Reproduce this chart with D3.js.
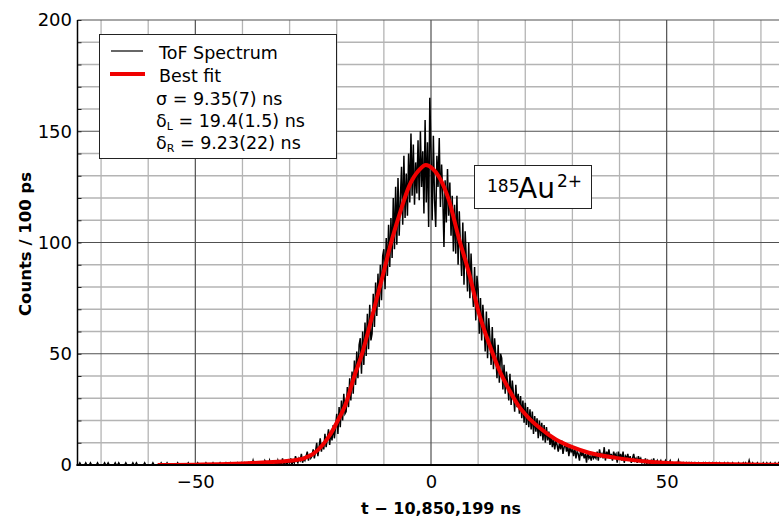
<!DOCTYPE html>
<html>
<head>
<meta charset="utf-8">
<script src="https://cdn.jsdelivr.net/npm/d3@7"></script>
<style>
  body { margin: 0; background: #fff; }
  svg text { font-family: "DejaVu Sans", sans-serif; fill: #000; }
</style>
</head>
<body>
<div id="chart"></div>
<script>
// ToF spectrum in 0.25 ns steps starting at -75 ns
const binStart = -75
const binWidth = 0.25
const counts = [
    0,0,1,0,0,0,0,1,0,0,0,1,0,0,0,0,0,1,0,0,
    0,0,0,1,0,0,1,0,0,0,0,0,1,0,0,1,0,0,0,0,
    0,1,0,0,0,0,0,1,0,0,1,0,0,0,0,0,0,1,0,0,
    0,0,0,0,1,0,0,0,0,0,0,1,0,0,0,0,1,0,0,0,
    0,0,0,0,0,1,0,0,0,0,0,0,0,0,1,0,0,0,0,0,
    0,0,1,0,0,0,0,0,0,1,0,0,0,0,0,1,0,0,0,0,
    0,1,0,0,0,0,1,0,0,0,1,0,0,0,0,0,1,0,0,1,
    0,0,1,0,0,1,0,0,0,2,0,0,1,0,0,0,1,0,0,2,
    1,0,0,2,0,1,0,0,1,0,2,0,1,0,3,0,1,1,0,2,
    1,3,0,2,1,4,2,1,3,2,5,1,3,2,4,6,2,5,3,4,
    7,3,6,10,4,8,12,6,10,7,14,8,12,16,9,15,11,18,12,17,
    23,14,26,17,29,20,32,23,24,35,26,39,29,42,32,47,36,51,39,54,
    57,41,60,45,64,49,68,52,72,56,59,77,62,82,67,86,71,90,74,94,
    97,79,102,85,108,89,111,93,120,97,125,99,129,103,120,134,108,139,111,131,
    112,140,118,149,121,144,117,136,122,146,119,150,125,141,113,155,118,145,107,165,
    141,110,148,119,107,139,125,147,116,135,121,98,128,109,133,112,127,103,121,96,
    117,95,121,90,114,98,85,109,81,105,92,78,100,75,95,80,71,89,65,85,
    79,59,75,56,72,63,51,69,48,66,57,45,62,43,57,49,39,54,37,50,
    48,34,45,32,42,37,29,41,27,38,32,24,36,26,32,23,31,21,29,19,
    28,18,26,17,25,16,24,14,22,15,21,12,20,13,19,11,18,10,17,11,
    15,9,13,8,12,7,11,9,6,10,7,11,5,8,10,6,9,4,8,6,
    7,4,8,3,6,5,2,7,4,6,3,5,1,6,3,4,2,5,3,4,
    3,6,2,7,4,5,3,8,2,6,4,7,3,5,2,6,4,5,1,6,
    3,5,2,6,1,4,3,5,2,4,1,3,5,2,3,1,4,2,3,1,
    2,1,3,0,2,1,0,2,1,3,0,1,2,0,1,2,0,1,0,2,
    1,0,1,2,0,1,0,0,1,0,2,0,1,0,1,0,0,1,0,1,
    0,1,0,0,1,0,0,1,0,0,0,1,0,1,0,0,1,0,0,1,
    0,0,1,0,0,1,0,0,0,1,0,0,1,0,0,0,1,0,0,0,
    0,1,0,0,0,1,0,1,0,0,2,0,0,1,0,0,0,1,0,0,
    0,0,1,0,0,1,0,0,1,0,0,0,1,0,0,1,0,0,0,0
]

// best fit curve
const fitT = [-58, -50, -45, -40, -35, -30, -27, -25, -23, -21.7, -20, -18, -16.3, -14.6, -12.5, -10.3, -8.2, -6.4, -4.7, -2.5, -1.1, 0.3, 1.7, 3.8, 5.9, 8.1, 10.2, 12.3, 14.4, 16.6, 18.7, 20.8, 22.9, 26.5, 30, 33.5, 39.2, 46.3, 53, 60, 75]
const fitY = [0, 0.15, 0.35, 0.7, 1.2, 1.9, 3, 5, 9, 12.7, 19, 28, 39.7, 50.2, 66.7, 84.6, 102, 114.6, 125, 132.6, 134.8, 133.3, 129.6, 119, 102, 86, 68, 54.7, 43, 33.7, 26.2, 21, 17, 11.5, 8, 5.5, 3.2, 1.5, 0.7, 0.4, 0.1]

const xTicks = [-50, 0, 50]
const yTicks = [0, 50, 100, 150, 200]
const fitParams = [
    ["σ", "", " = 9.35(7) ns"],
    ["δ", "L", " = 19.4(1.5) ns"],
    ["δ", "R", " = 9.23(22) ns"]
]

const W = 779, H = 517
const margin = ({ top: 20, left: 77.5 })
const plotBottom = 465

const svg = d3.select("#chart").append("svg")
    .attr("width", W)
    .attr("height", H)

const x = d3.scaleLinear().domain([-75, 75]).range([margin.left, 784.5])
const y = d3.scaleLinear().domain([0, 200]).range([plotBottom, margin.top])

svg.append("clipPath").attr("id", "plot-clip")
    .append("rect")
    .attr("x", margin.left).attr("y", margin.top - 2)
    .attr("width", x(75) - margin.left).attr("height", plotBottom - margin.top + 2)

// grid: minor every 10, major every 50
const grid = svg.append("g")
const xMinor = d3.range(-70, 75, 10).filter(v => v % 50 != 0)
const yMinor = d3.range(10, 200, 10).filter(v => v % 50 != 0)

grid.selectAll(".vminor").data(xMinor).join("line")
    .attr("x1", d => x(d)).attr("x2", d => x(d))
    .attr("y1", y(0)).attr("y2", y(200))
    .attr("stroke", "#b4b4b4").attr("stroke-width", 1.3)
grid.selectAll(".hminor").data(yMinor).join("line")
    .attr("x1", x(-75)).attr("x2", x(75))
    .attr("y1", d => y(d)).attr("y2", d => y(d))
    .attr("stroke", "#b4b4b4").attr("stroke-width", 1.3)
grid.selectAll(".vmajor").data(xTicks).join("line")
    .attr("x1", d => x(d)).attr("x2", d => x(d))
    .attr("y1", y(0)).attr("y2", y(200))
    .attr("stroke", "#505050").attr("stroke-width", 1.2)
grid.selectAll(".hmajor").data(yTicks.filter(d => d > 0)).join("line")
    .attr("x1", x(-75)).attr("x2", x(75))
    .attr("y1", d => y(d)).attr("y2", d => y(d))
    .attr("stroke", "#505050").attr("stroke-width", 1.2)

// spectrum
const specLine = d3.line()
    .x((d, i) => x(binStart + i * binWidth))
    .y(d => y(d))

svg.append("path")
    .datum(counts)
    .attr("clip-path", "url(#plot-clip)")
    .attr("fill", "none")
    .attr("stroke", "black")
    .attr("stroke-width", 1.5)
    .attr("stroke-linejoin", "miter")
    .attr("d", specLine)

// fit
const fitLine = d3.line()
    .curve(d3.curveMonotoneX)
    .x(d => x(d[0]))
    .y(d => y(d[1]))

svg.append("path")
    .datum(d3.zip(fitT, fitY))
    .attr("clip-path", "url(#plot-clip)")
    .attr("fill", "none")
    .attr("stroke", "#f00000")
    .attr("stroke-width", 4)
    .attr("stroke-linejoin", "round")
    .attr("d", fitLine)

// axes
const yAxis = d3.axisLeft(y)
    .tickValues(d3.range(0, 201, 10))
    .tickSize(-4)
    .tickPadding(5.5)
    .tickFormat(d => d % 50 == 0 ? d : "")

svg.append("g")
    .attr("transform", `translate(${margin.left},0)`)
    .call(yAxis)
    .call(g => g.select(".domain").remove())
    .call(g => g.selectAll(".tick line").attr("stroke", "#222"))
    .call(g => g.selectAll("text").attr("font-size", 18).attr("font-family", "DejaVu Sans"))

const xAxis = d3.axisBottom(x)
    .tickValues(xTicks)
    .tickSize(0)
    .tickPadding(10)

svg.append("g")
    .attr("transform", `translate(0,${plotBottom})`)
    .call(xAxis)
    .call(g => g.select(".domain").remove())
    .call(g => g.selectAll("text").attr("font-size", 18).attr("font-family", "DejaVu Sans"))

svg.append("line")
    .attr("x1", margin.left).attr("x2", margin.left)
    .attr("y1", y(200)).attr("y2", y(0) + 1)
    .attr("stroke", "black").attr("stroke-width", 1.5)
svg.append("line")
    .attr("x1", margin.left - 1).attr("x2", W)
    .attr("y1", y(0)).attr("y2", y(0))
    .attr("stroke", "black").attr("stroke-width", 2)

svg.append("text")
    .attr("x", 441).attr("y", 514)
    .attr("text-anchor", "middle")
    .attr("font-weight", "bold")
    .attr("font-size", 16)
    .text("t − 10,850,199 ns")

svg.append("text")
    .attr("transform", "translate(31,244) rotate(-90)")
    .attr("text-anchor", "middle")
    .attr("font-weight", "bold")
    .attr("font-size", 16.5)
    .text("Counts / 100 ps")

// legend
const legend = svg.append("g")
legend.append("rect")
    .attr("x", 99.5).attr("y", 34.5)
    .attr("width", 237).attr("height", 124)
    .attr("fill", "white").attr("stroke", "#222").attr("stroke-width", 1)
legend.append("line")
    .attr("x1", 111).attr("x2", 143).attr("y1", 51).attr("y2", 51)
    .attr("stroke", "black").attr("stroke-width", 1.2)
legend.append("line")
    .attr("x1", 110).attr("x2", 145).attr("y1", 74).attr("y2", 74)
    .attr("stroke", "#f00000").attr("stroke-width", 4)
legend.append("text").attr("x", 159).attr("y", 59).attr("font-size", 17.5).text("ToF Spectrum")
legend.append("text").attr("x", 159).attr("y", 82).attr("font-size", 17.5).text("Best fit")

fitParams.forEach((p, i) => {
    const t = legend.append("text")
        .attr("x", 156).attr("y", 104.5 + i * 22.3)
        .attr("font-size", 17.5)
    t.append("tspan").text(p[0])
    if (p[1]) {
        t.append("tspan").attr("font-size", 11).attr("dy", 3).text(p[1])
        t.append("tspan").attr("dy", -3).text(p[2])
    } else {
        t.append("tspan").text(p[2])
    }
})

// isotope label
const iso = svg.append("g")
iso.append("rect")
    .attr("x", 474.5).attr("y", 165.5)
    .attr("width", 117).attr("height", 43)
    .attr("fill", "white").attr("stroke", "#222").attr("stroke-width", 1)
const isoText = iso.append("text")
isoText.append("tspan").attr("x", 487).attr("y", 191.5).attr("font-size", 17).text("185")
isoText.append("tspan").attr("x", 518).attr("y", 198).attr("font-size", 28).text("Au")
isoText.append("tspan").attr("x", 557).attr("y", 187).attr("font-size", 17).text("2+")
</script>
</body>
</html>
